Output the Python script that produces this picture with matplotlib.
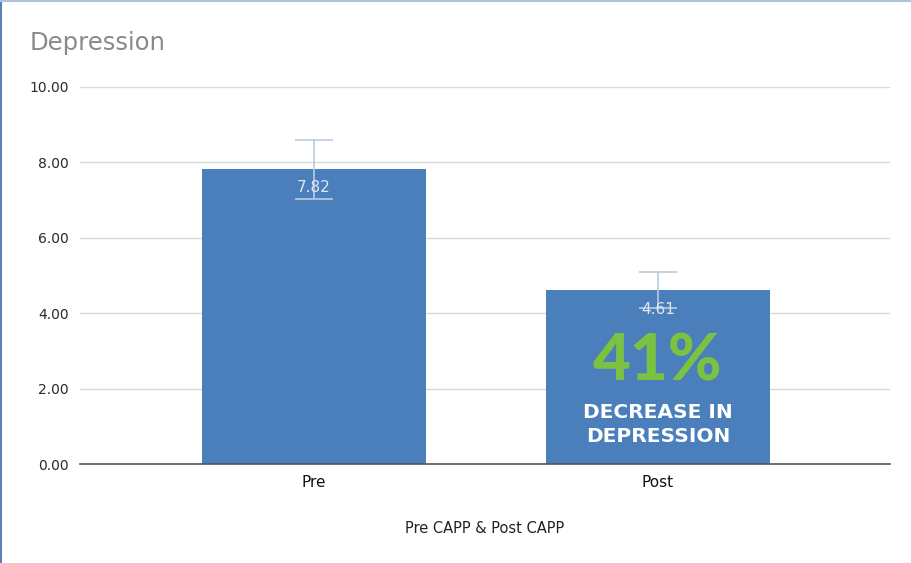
import matplotlib.pyplot as plt
from matplotlib.lines import Line2D

# data
groups = ["Pre", "Post"]
means = [7.82, 4.61]
errors = [0.78, 0.48]
yticks = [0, 2, 4, 6, 8, 10]

bar_color = "#4b7fbc"
green = "#7cc242"

fig = plt.figure(figsize=(9.12, 5.63), dpi=100)
ax = fig.add_axes([0.0877, 0.1758, 0.888, 0.6697])

x = list(range(len(groups)))
ax.bar(x, means, width=0.65, color=bar_color, zorder=2)
ax.errorbar(x, means, yerr=errors, fmt="none", ecolor="#b9cbe0",
            elinewidth=1.2, capsize=14, capthick=1.2, zorder=3)

for xi, m in zip(x, means):
    ax.text(xi, m - 0.3, f"{m:.2f}", ha="center", va="top",
            fontsize=11, color="#dce6f2", zorder=4)

# callout inside the Post bar
ax.text(1, 2.7, "41%", ha="center", va="center", fontsize=47,
        fontweight="black", family=["Lato", "DejaVu Sans"], color=green, zorder=4)
ax.text(1, 1.05, "DECREASE IN\nDEPRESSION", ha="center", va="center",
        fontsize=14.5, fontweight="bold", family=["DejaVu Sans"],
        color="white", linespacing=1.3, zorder=4)

ax.set_xlim(-0.68, 1.674)
ax.set_ylim(0, 10)
ax.set_yticks(yticks)
ax.set_yticklabels([f"{v:.2f}" for v in yticks], fontsize=10, color="#2a2a2a")
ax.set_xticks(x)
ax.set_xticklabels(groups, fontsize=11, color="#111111")
ax.tick_params(axis="both", length=0, pad=8)
ax.grid(axis="y", color="#d9d9d9", linewidth=1, zorder=0)
for side in ["top", "right", "left"]:
    ax.spines[side].set_visible(False)
ax.spines["bottom"].set_color("#555555")
ax.spines["bottom"].set_linewidth(1.2)
ax.spines["bottom"].set_zorder(5)

ax.set_xlabel("Pre CAPP & Post CAPP", fontsize=10.5, color="#222222", labelpad=22)

fig.text(30 / 912, 1 - 43 / 563, "Depression", fontsize=17.5, color="#8a8a8a",
         ha="left", va="center")

# frame edges: left and top only
fig.lines.append(Line2D([0.001, 0.001], [0, 1], transform=fig.transFigure,
                        color="#5b80b8", linewidth=1.5))
fig.lines.append(Line2D([0, 1], [0.999, 0.999], transform=fig.transFigure,
                        color="#b4c2dc", linewidth=1.5))

fig.savefig("out.png", dpi=100)
